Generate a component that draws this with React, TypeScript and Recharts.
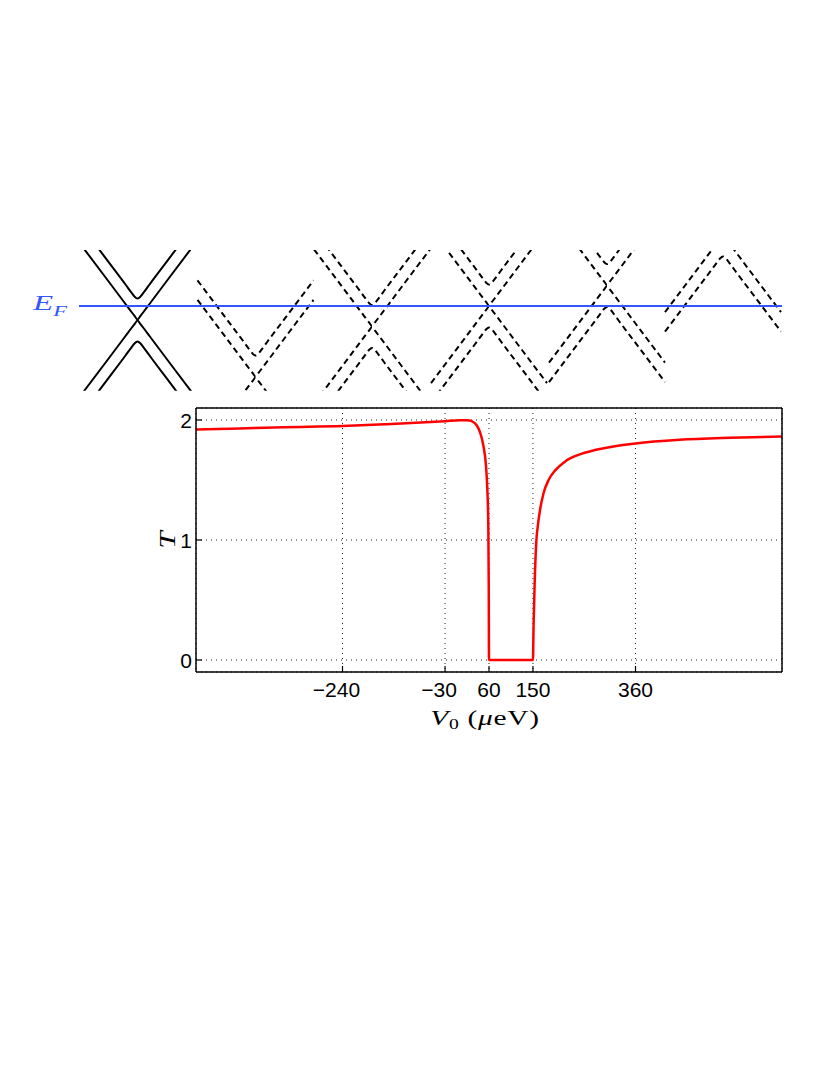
import React from 'react';
import { LineChart, Line, XAxis, YAxis, CartesianGrid, ReferenceLine } from 'recharts';

// transmission T against V0 (µeV)
const v0Values = [-540, -450, -360, -240, -150, -60, -30, 0, 15, 24.5, 34.7, 41.4, 48.3, 53.8, 56.5, 58.6, 59.5, 60, 150, 151.3, 153.4, 156.9, 160.2, 164.9, 171.7, 182, 195.6, 216, 243.3, 277, 315, 360, 450, 553, 660];
const tValues = [1.92, 1.93, 1.94, 1.95, 1.965, 1.983, 1.99, 1.998, 1.998, 1.99, 1.956, 1.9, 1.79, 1.62, 1.43, 1.12, 0.6, 0, 0, 0.29, 0.625, 0.986, 1.125, 1.26, 1.39, 1.5, 1.58, 1.655, 1.71, 1.75, 1.78, 1.805, 1.835, 1.852, 1.863];

const xTicks = [-240, -30, 60, 150, 360];
const yTicks = [0, 1, 2];

// band sketch: one set of bands around its Dirac point (k and E in px)
const bandK = [-58, -30, -12, -6, -3, 0, 3, 6, 12, 30, 58];
const coneBand = [77.1, 40, 16, 8, 4.2, 0.6, 4.2, 8, 16, 40, 77.1];
const gapBand = [96.6, 59.4, 35.5, 27.3, 23.5, 21.5, 23.5, 27.3, 35.5, 59.4, 96.6];

// panel centres and Dirac point height relative to E_F
const panelX = [137.5, 255.5, 372, 489, 607, 723];
const panelE = [-14, -71, -20.5, 0, 20.5, 71];

const BLUE = '#3355ff';
const RED = '#ff0000';
const SANS = '"Liberation Sans", Arial, Helvetica, sans-serif';
const SERIF = '"Liberation Serif", "Times New Roman", serif';

const tData = v0Values.map((v, i) => ({ v0: v, t: tValues[i] }));

const bandSeries = panelX.flatMap((cx, p) =>
  [coneBand, gapBand].flatMap((shape, s) =>
    [1, -1].map((sign) => ({
      id: `p${p}-b${s}-${sign > 0 ? 'u' : 'd'}`,
      dashed: p > 0,
      data: bandK.map((k, i) => ({ x: cx + k, e: panelE[p] + sign * shape[i] })),
    }))
  )
);

const fmt = (v: number) => (v < 0 ? `\u2212${Math.abs(v)}` : `${v}`);

function BottomTick({ x, y, payload }: any) {
  const v = payload.value;
  return (
    <g>
      <line x1={x} y1={y} x2={x} y2={y - 6} stroke="#000" strokeWidth={1.2} />
      <text x={v < 0 ? x - 6 : x} y={y + 25} textAnchor="middle" fontSize={21} fontFamily={SANS} fill="#000">
        {fmt(v)}
      </text>
    </g>
  );
}

function TopTick({ x, y }: any) {
  return <line x1={x} y1={y} x2={x} y2={y + 6} stroke="#000" strokeWidth={1.2} />;
}

function LeftTick({ x, y, payload }: any) {
  return (
    <g>
      <line x1={x} y1={y} x2={x + 6} y2={y} stroke="#000" strokeWidth={1.2} />
      <text x={x - 4} y={y + 7.5} textAnchor="end" fontSize={21} fontFamily={SANS} fill="#000">
        {fmt(payload.value)}
      </text>
    </g>
  );
}

function RightTick({ x, y }: any) {
  return <line x1={x} y1={y} x2={x - 6} y2={y} stroke="#000" strokeWidth={1.2} />;
}

function XLabel({ viewBox }: any) {
  const cx = viewBox.x + viewBox.width / 2 - 4;
  const y = viewBox.y + 53;
  return (
    <g transform={`translate(${cx}, ${y}) scale(1.4, 1)`}>
      <text x={0} y={0} textAnchor="middle" fontSize={21} fontFamily={SERIF} fill="#000" letterSpacing={0.5}>
        <tspan fontStyle="italic">V</tspan>
        <tspan fontSize={14} dy={4}>0</tspan>
        <tspan dy={-4}> (</tspan>
        <tspan fontStyle="italic">μ</tspan>
        <tspan>eV)</tspan>
      </text>
    </g>
  );
}

function YLabel({ viewBox }: any) {
  const x = viewBox.x + 39;
  const y = viewBox.y + viewBox.height / 2;
  return (
    <g transform={`translate(${x}, ${y}) rotate(-90) scale(1.3, 1)`}>
      <text x={0} y={0} textAnchor="middle" fontSize={24} fontFamily={SERIF} fontStyle="italic" fill="#000">
        T
      </text>
    </g>
  );
}

function EfLabel({ viewBox }: any) {
  return (
    <g transform={`translate(${viewBox.x - 46}, ${viewBox.y + 4}) scale(1.5, 1)`}>
      <text x={0} y={0} fontSize={22} fontFamily={SERIF} fontStyle="italic" fill={BLUE}>
        E<tspan fontSize={15} dy={6}>F</tspan>
      </text>
    </g>
  );
}

export default function App() {
  return (
    <div style={{ position: 'absolute', left: 0, top: 0, width: 830, height: 1075, background: '#fff' }}>
      {/* band sketch with the Fermi level */}
      <div style={{ position: 'absolute', left: 0, top: 200 }}>
        <LineChart width={830} height={200} margin={{ top: 50, right: 48, bottom: 9.3, left: 79 }}>
          <XAxis type="number" dataKey="x" domain={[79, 782]} allowDataOverflow hide />
          <YAxis type="number" domain={[-84.7, 56]} allowDataOverflow hide />
          {bandSeries.map((b) => (
            <Line
              key={b.id}
              data={b.data}
              dataKey="e"
              type="monotone"
              stroke="#000"
              strokeWidth={2}
              strokeDasharray={b.dashed ? '6 4' : undefined}
              dot={false}
              activeDot={false}
              isAnimationActive={false}
            />
          ))}
          <ReferenceLine y={0} stroke={BLUE} strokeWidth={2} label={<EfLabel />} />
        </LineChart>
      </div>

      {/* transmission */}
      <div style={{ position: 'absolute', left: 0, top: 380 }}>
        <LineChart width={830} height={380} data={tData} margin={{ top: 18, right: 38, bottom: 28, left: 136 }}>
          <CartesianGrid xAxisId="b" yAxisId="l" stroke="#222" strokeDasharray="1 4" strokeWidth={1} />
          <XAxis
            xAxisId="b"
            orientation="bottom"
            type="number"
            dataKey="v0"
            domain={[-540, 660]}
            ticks={xTicks}
            interval={0}
            height={60}
            tickSize={0}
            tickMargin={0}
            tickLine={false}
            axisLine={{ stroke: '#000', strokeWidth: 1.5 }}
            tick={(props: any) => <BottomTick {...props} />}
            label={<XLabel />}
          />
          <XAxis
            xAxisId="t"
            orientation="top"
            type="number"
            domain={[-540, 660]}
            ticks={xTicks}
            interval={0}
            height={10}
            tickSize={0}
            tickMargin={0}
            tickLine={false}
            axisLine={{ stroke: '#000', strokeWidth: 1.5 }}
            tick={(props: any) => <TopTick {...props} />}
          />
          <YAxis
            yAxisId="l"
            orientation="left"
            type="number"
            domain={[-0.1, 2.1]}
            ticks={yTicks}
            interval={0}
            width={60}
            tickSize={0}
            tickMargin={0}
            tickLine={false}
            axisLine={{ stroke: '#000', strokeWidth: 1.5 }}
            tick={(props: any) => <LeftTick {...props} />}
            label={<YLabel />}
          />
          <YAxis
            yAxisId="r"
            orientation="right"
            type="number"
            domain={[-0.1, 2.1]}
            ticks={yTicks}
            interval={0}
            width={10}
            tickSize={0}
            tickMargin={0}
            tickLine={false}
            axisLine={{ stroke: '#000', strokeWidth: 1.5 }}
            tick={(props: any) => <RightTick {...props} />}
          />
          <Line
            xAxisId="b"
            yAxisId="l"
            dataKey="t"
            type="monotone"
            stroke={RED}
            strokeWidth={2.5}
            dot={false}
            activeDot={false}
            isAnimationActive={false}
          />
        </LineChart>
      </div>
    </div>
  );
}
